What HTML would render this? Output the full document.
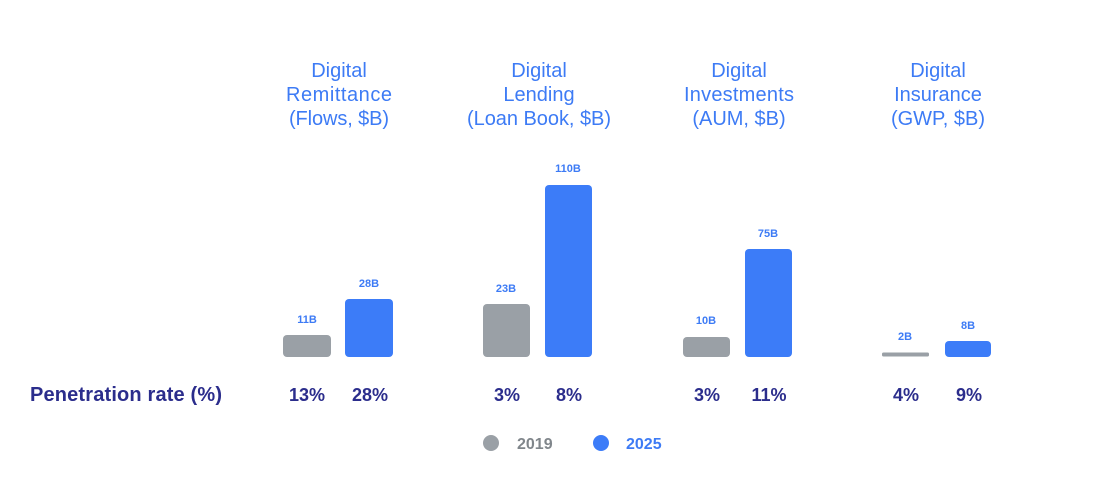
<!DOCTYPE html>
<html><head><meta charset="utf-8"><style>
html,body{margin:0;padding:0;background:#fff;}
svg{display:block;font-family:"Liberation Sans",sans-serif;}
</style></head><body>
<svg width="1112" height="485" viewBox="0 0 1112 485">
<g fill="#3d7bf5" font-size="20" text-anchor="middle">
<text x="339" y="77">Digital</text><text x="339" y="101" textLength="106">Remittance</text><text x="339" y="125" textLength="100">(Flows, $B)</text>
<text x="539" y="77">Digital</text><text x="539" y="101">Lending</text><text x="539" y="125" textLength="144">(Loan Book, $B)</text>
<text x="739" y="77">Digital</text><text x="739" y="101" textLength="110">Investments</text><text x="739" y="125">(AUM, $B)</text>
<text x="938" y="77">Digital</text><text x="938" y="101">Insurance</text><text x="938" y="125">(GWP, $B)</text>
</g>
<g fill="#9aa0a6">
<rect x="283" y="335" width="48" height="22" rx="4"/>
<rect x="483" y="304" width="47" height="53" rx="4"/>
<rect x="683" y="337" width="47" height="20" rx="4"/>
<rect x="882" y="352.5" width="47" height="4" rx="1.5"/>
</g>
<g fill="#3c7cf8">
<rect x="345" y="299" width="48" height="58" rx="4"/>
<rect x="545" y="185" width="47" height="172" rx="4"/>
<rect x="745" y="249" width="47" height="108" rx="4"/>
<rect x="945" y="341" width="46" height="16" rx="4"/>
</g>
<g fill="#3d7bf5" font-size="11" font-weight="bold" text-anchor="middle">
<text x="307" y="323">11B</text><text x="369" y="287">28B</text>
<text x="506" y="292">23B</text><text x="568" y="172">110B</text>
<text x="706" y="324">10B</text><text x="768" y="237">75B</text>
<text x="905" y="340">2B</text><text x="968" y="329">8B</text>
</g>
<g fill="#2b2d8c" font-size="18" font-weight="bold">
<text x="30" y="401" font-size="20" textLength="192">Penetration rate (%)</text>
<g text-anchor="middle">
<text x="307" y="401">13%</text><text x="370" y="401">28%</text>
<text x="507" y="401">3%</text><text x="569" y="401">8%</text>
<text x="707" y="401">3%</text><text x="769" y="401">11%</text>
<text x="906" y="401">4%</text><text x="969" y="401">9%</text>
</g></g>
<circle cx="491" cy="443" r="8" fill="#9aa0a6"/>
<text x="517" y="449" font-size="16" font-weight="bold" fill="#80868b">2019</text>
<circle cx="601" cy="443" r="8" fill="#3c7cf8"/>
<text x="626" y="449" font-size="16" font-weight="bold" fill="#3d7bf5">2025</text>
</svg>
</body></html>
